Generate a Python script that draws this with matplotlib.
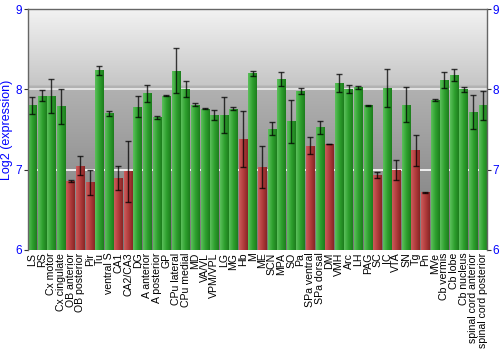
import numpy as np
import matplotlib
matplotlib.use("Agg")
import matplotlib.pyplot as plt
from matplotlib.colors import LinearSegmentedColormap

regions = ["LS", "RS", "Cx motor", "Cx cingulate", "OB anterior", "OB posterior",
           "Pir", "Tu", "ventral S", "CA1", "CA2/CA3", "DG", "A anterior",
           "A posterior", "GP", "CPu lateral", "CPu medial", "MD", "VA/VL",
           "VPM/VPL", "LG", "MG", "Hb", "M", "ME", "SCN", "MPA", "SO", "Pa",
           "SPa ventral", "SPa dorsal", "DM", "VMH", "Arc", "LH", "PAG", "SC",
           "IC", "VTA", "SN", "Tg", "Pn", "MVe", "Cb vermis", "Cb lobe",
           "Cb nucleus", "spinal cord anterior", "spinal cord posterior"]

expr = [7.80, 7.92, 7.92, 7.79, 6.86, 7.05, 6.84, 8.24, 7.70, 6.90, 6.98, 7.785,
        7.95, 7.65, 7.92, 8.23, 8.00, 7.81, 7.76, 7.68, 7.68, 7.76, 7.38, 8.20,
        7.03, 7.51, 8.13, 7.60, 7.98, 7.30, 7.53, 7.32, 8.08, 8.00, 8.025, 7.80,
        6.93, 8.02, 7.00, 7.81, 7.24, 6.72, 7.87, 8.12, 8.18, 8.00, 7.72, 7.80]

err = [0.11, 0.07, 0.21, 0.22, 0.015, 0.12, 0.16, 0.055, 0.03, 0.15, 0.38, 0.13,
       0.11, 0.02, 0.005, 0.28, 0.10, 0.015, 0.01, 0.06, 0.22, 0.015, 0.35, 0.035,
       0.26, 0.08, 0.09, 0.27, 0.035, 0.105, 0.08, 0.005, 0.11, 0.05, 0.023, 0.01,
       0.04, 0.235, 0.125, 0.22, 0.195, 0.005, 0.01, 0.10, 0.075, 0.033, 0.21, 0.18]

# regions below this level are shown in red
threshold = 7.5

plt.rcParams['font.family'] = ['Liberation Sans', 'DejaVu Sans']

fig = plt.figure(figsize=(5, 3.5), dpi=100)
ax = fig.add_axes([0.056, 0.286, 0.918, 0.688])

x = np.arange(len(regions))
x0, x1 = -0.44, len(regions) - 0.55
ax.set_xlim(x0, x1)
ax.set_ylim(6, 9)

# glossy grey background: light gradient on top, darker one below the break
ys = np.linspace(6, 9, 400)
gloss = 8.05
grey = np.where(ys >= gloss,
                0.776 + (ys - gloss) / (9 - gloss) * (0.95 - 0.776),
                0.70 - (gloss - ys) / (gloss - 6) * (0.70 - 0.47))
ax.imshow(np.repeat(grey[:, None, None], 3, axis=2), aspect="auto",
          extent=(x0, x1, 6, 9), origin="lower", zorder=0, interpolation="bilinear")

ax.axhline(7, color="white", lw=1.2, zorder=1)
ax.axhline(8, color="#ececec", lw=1.2, zorder=1)

green = LinearSegmentedColormap.from_list("g", ["#5cc05c", "#2fa12f", "#1d7d1d"])
red = LinearSegmentedColormap.from_list("r", ["#cc5c5c", "#b23c3c", "#872525"])
shade = np.linspace(0, 1, 64).reshape(1, -1)

bars = ax.bar(x, np.array(expr) - 6, width=0.87, bottom=6, color="none",
              edgecolor="none", zorder=2)
for b, v in zip(bars, expr):
    cmap = red if v < threshold else green
    im = ax.imshow(shade, cmap=cmap, aspect="auto", zorder=2,
                   extent=(b.get_x(), b.get_x() + b.get_width(), 6, v))
    im.set_clip_path(b)

ax.errorbar(x, expr, yerr=err, fmt="none", ecolor="black", elinewidth=1,
            capsize=2, capthick=1, alpha=0.75, zorder=3)

ax.set_xticks(x)
ax.set_xticklabels(regions, rotation=90, fontsize=7.6, color="black")
ax.tick_params(axis="x", length=0, pad=2)

ax.set_yticks([6, 7, 8, 9])
ax.tick_params(axis="y", colors="#333333", labelcolor="blue", labelsize=8.5,
               length=3, right=True, labelright=True, pad=1)
ax.set_ylabel("Log2 (expression)", color="blue", fontsize=9, labelpad=2)

for side in ["top", "left", "right"]:
    ax.spines[side].set_color("#666666")
    ax.spines[side].set_linewidth(1)
ax.spines["bottom"].set_visible(False)

fig.savefig("out.png", dpi=100)
